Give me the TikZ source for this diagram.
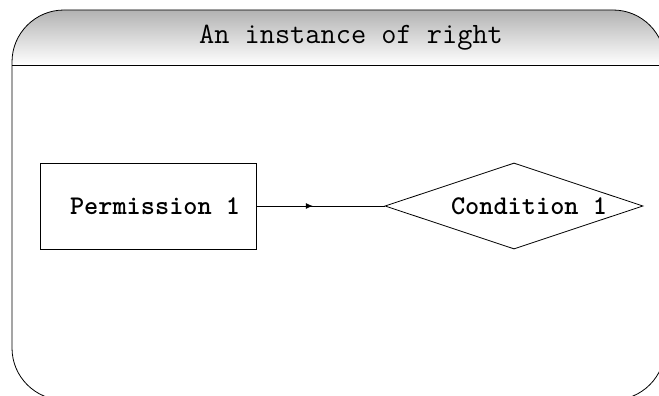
\documentclass[tikz,border=0pt]{standalone}
\usepackage{fontspec}
\usetikzlibrary{shapes.geometric,decorations.markings,arrows.meta}

\begin{document}
\begin{tikzpicture}[x=1pt,y=-1pt,line width=0.8pt,
  lbl/.style={font=\ttfamily\bfseries\fontsize{27}{32}\selectfont},
  permbox/.style={draw,rectangle,minimum width=216pt,minimum height=86pt,lbl},
  condbox/.style={draw,diamond,aspect=3,inner sep=0pt,minimum width=258pt,minimum height=86pt},
  midmark/.style={postaction={decorate},decoration={markings,
    mark=at position 0.44 with {\arrow{Latex[length=7pt,width=6pt]}}}}]
	\useasboundingbox (0,0) rectangle (659,396);
	%frame and header
	\begin{scope}
		\clip[rounded corners=52pt] (12,10) rectangle (665,400);
		\shade[top color=black!30,bottom color=white] (12,10) rectangle (665,65);
	\end{scope}
	\draw[rounded corners=52pt] (12,10) rectangle (665,400);
	\draw (12,65) -- (665,65);
	\node[font=\ttfamily\fontsize{29.5}{34}\selectfont] (title) at (351,38) {An instance of right};
	%nodes
	\node[permbox] (perm) at (148,206) {~Permission 1};
	\node[condbox] (cond) at (514,206) {};
	\node[lbl] (condtext) at ([xshift=15pt]cond.center) {Condition 1};
	\draw[midmark] (perm) -- (cond);
\end{tikzpicture}
\end{document}
